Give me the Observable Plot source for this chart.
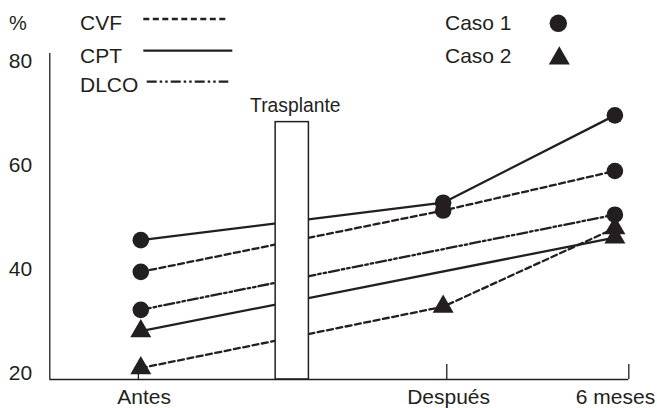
<!DOCTYPE html>
<html>
<head>
<meta charset="utf-8">
<script src="https://cdn.jsdelivr.net/npm/d3@7"></script>
<script src="https://cdn.jsdelivr.net/npm/@observablehq/plot@0.6"></script>
<style>
  html, body { margin: 0; padding: 0; background: #fff; }
  #chart svg { display: block; }
</style>
</head>
<body>
<div id="chart"></div>
<script>
// ---- data ----
const stages = ["Antes", "Después", "6 meses"];
const stageX = [0, 1, 1.568];              // relative position of each stage on the x axis
const stageLabelX = [0.011, 1.018, 1.570];  // tick label positions
const stageTickX = [-0.008, 1.012, 1.614];  // tick mark positions
const yTicks = [20, 40, 60, 80];
const measures = ["CVF", "CPT", "DLCO"];
const casos = ["Caso 1", "Caso 2"];
const caso1CVF = [39.5, 51.3, 58.9];
const caso1CPT = [45.6, 52.8, 69.6];
const caso1DLCO = [32.2, null, 50.5];
const caso2CVF = [21.0, 32.8, 47.9];
const caso2CPT = [28.1, null, 46.1];
const caso2DLCO = [null, null, null];
const transplantLabel = "Trasplante";
const transplantSpan = [0.446, 0.556];
const transplantTop = 68.3;
const yUnit = "%";

// ---- build table ----
const series = {
  "Caso 1": {CVF: caso1CVF, CPT: caso1CPT, DLCO: caso1DLCO},
  "Caso 2": {CVF: caso2CVF, CPT: caso2CPT, DLCO: caso2DLCO}
};
const rows = [];
for (const caso of casos) for (const m of measures) {
  series[caso][m].forEach((v, i) => {
    if (v != null) rows.push({caso, measure: m, stage: stages[i], x: stageX[i], value: v});
  });
}

const ink = "#231f20";
const font = "'Liberation Sans', Arial, Helvetica, sans-serif";
const xDomain = [-0.301, 1.614];
const yDomain = [18.8, 81.5];
const dash = {CVF: "6,3.5", CPT: null, DLCO: "10,3,2.5,3,2.5,3"};

const lineMarks = measures.map(m => Plot.line(rows.filter(d => d.measure === m), {
  x: "x", y: "value", z: "caso", stroke: ink, strokeWidth: 2.3,
  strokeDasharray: dash[m] || undefined, strokeLinejoin: "round"
}));

const plot = Plot.plot({
  width: 657,
  height: 408,
  marginLeft: 49.3,
  marginRight: 28.7,
  marginTop: 53,
  marginBottom: 29,
  style: {fontFamily: font, background: "#fff", color: ink, overflow: "visible"},
  x: {domain: xDomain, axis: null},
  y: {domain: yDomain, axis: null},
  marks: [
    ...lineMarks,
    Plot.rect([transplantSpan], {
      x1: d => d[0], x2: d => d[1], y1: () => yDomain[0], y2: () => transplantTop,
      fill: "white", stroke: ink, strokeWidth: 1.5
    }),
    Plot.text([transplantLabel], {
      x: () => (transplantSpan[0] + transplantSpan[1]) / 2, y: () => transplantTop,
      text: d => d, dx: 3, dy: -16.3, lineAnchor: "middle", fontSize: 19.3, fill: ink
    }),
    // axes
    Plot.ruleX([xDomain[0]], {stroke: ink, strokeWidth: 1.3}),
    Plot.ruleY([yDomain[0]], {stroke: ink, strokeWidth: 1.3}),
    Plot.ruleX(stageTickX, {stroke: ink, strokeWidth: 1.3, insetTop: 311}),
    Plot.text(stages, {
      x: (d, i) => stageLabelX[i], y: () => yDomain[0], text: d => d,
      dy: 9.4, lineAnchor: "top", fontSize: 21, fill: ink
    }),
    Plot.text(yTicks, {
      x: () => xDomain[0], y: d => d, text: d => String(d),
      dx: -17.6, textAnchor: "end", lineAnchor: "middle", fontSize: 21, fill: ink
    }),
    // points
    Plot.dot(rows.filter(d => d.caso === "Caso 1"), {
      x: "x", y: "value", r: 8.3, fill: ink, symbol: "circle"
    }),
    Plot.dot(rows.filter(d => d.caso === "Caso 2"), {
      x: "x", y: "value", r: 7.8, fill: ink, symbol: "triangle"
    })
  ]
});

// ---- legend (drawn into the same svg) ----
const svg = d3.select(plot);
const lg = svg.append("g").attr("font-family", font).attr("fill", ink)
  .attr("text-anchor", "start");
lg.append("text").attr("x", 18).attr("y", 29.5).attr("font-size", 20)
  .attr("text-anchor", "middle").text(yUnit);

const measureLegend = [
  {m: "CVF", ty: 30, ly: 19, x1: 143.3, x2: 228.3},
  {m: "CPT", ty: 63, ly: 50.7, x1: 143.3, x2: 232.3},
  {m: "DLCO", ty: 91.7, ly: 81.7, x1: 146.7, x2: 228.3}
];
for (const e of measureLegend) {
  lg.append("text").attr("x", 80).attr("y", e.ty).attr("font-size", 21)
    .attr("text-anchor", "start").text(e.m);
  const ln = lg.append("line").attr("x1", e.x1).attr("x2", e.x2)
    .attr("y1", e.ly).attr("y2", e.ly).attr("stroke", ink).attr("stroke-width", 2.3);
  if (dash[e.m]) ln.attr("stroke-dasharray", dash[e.m]);
}
lg.append("text").attr("x", 445).attr("y", 29.5).attr("font-size", 21)
  .attr("text-anchor", "start").text(casos[0]);
lg.append("text").attr("x", 445).attr("y", 62.5).attr("font-size", 21)
  .attr("text-anchor", "start").text(casos[1]);
lg.append("circle").attr("cx", 558.3).attr("cy", 23.3).attr("r", 8.7).attr("fill", ink);
lg.append("path").attr("d", d3.symbol(d3.symbolTriangle, Math.PI * 7.8 * 7.8)())
  .attr("transform", "translate(559.3,58.4)").attr("fill", ink);

document.getElementById("chart").appendChild(plot);
</script>
</body>
</html>
